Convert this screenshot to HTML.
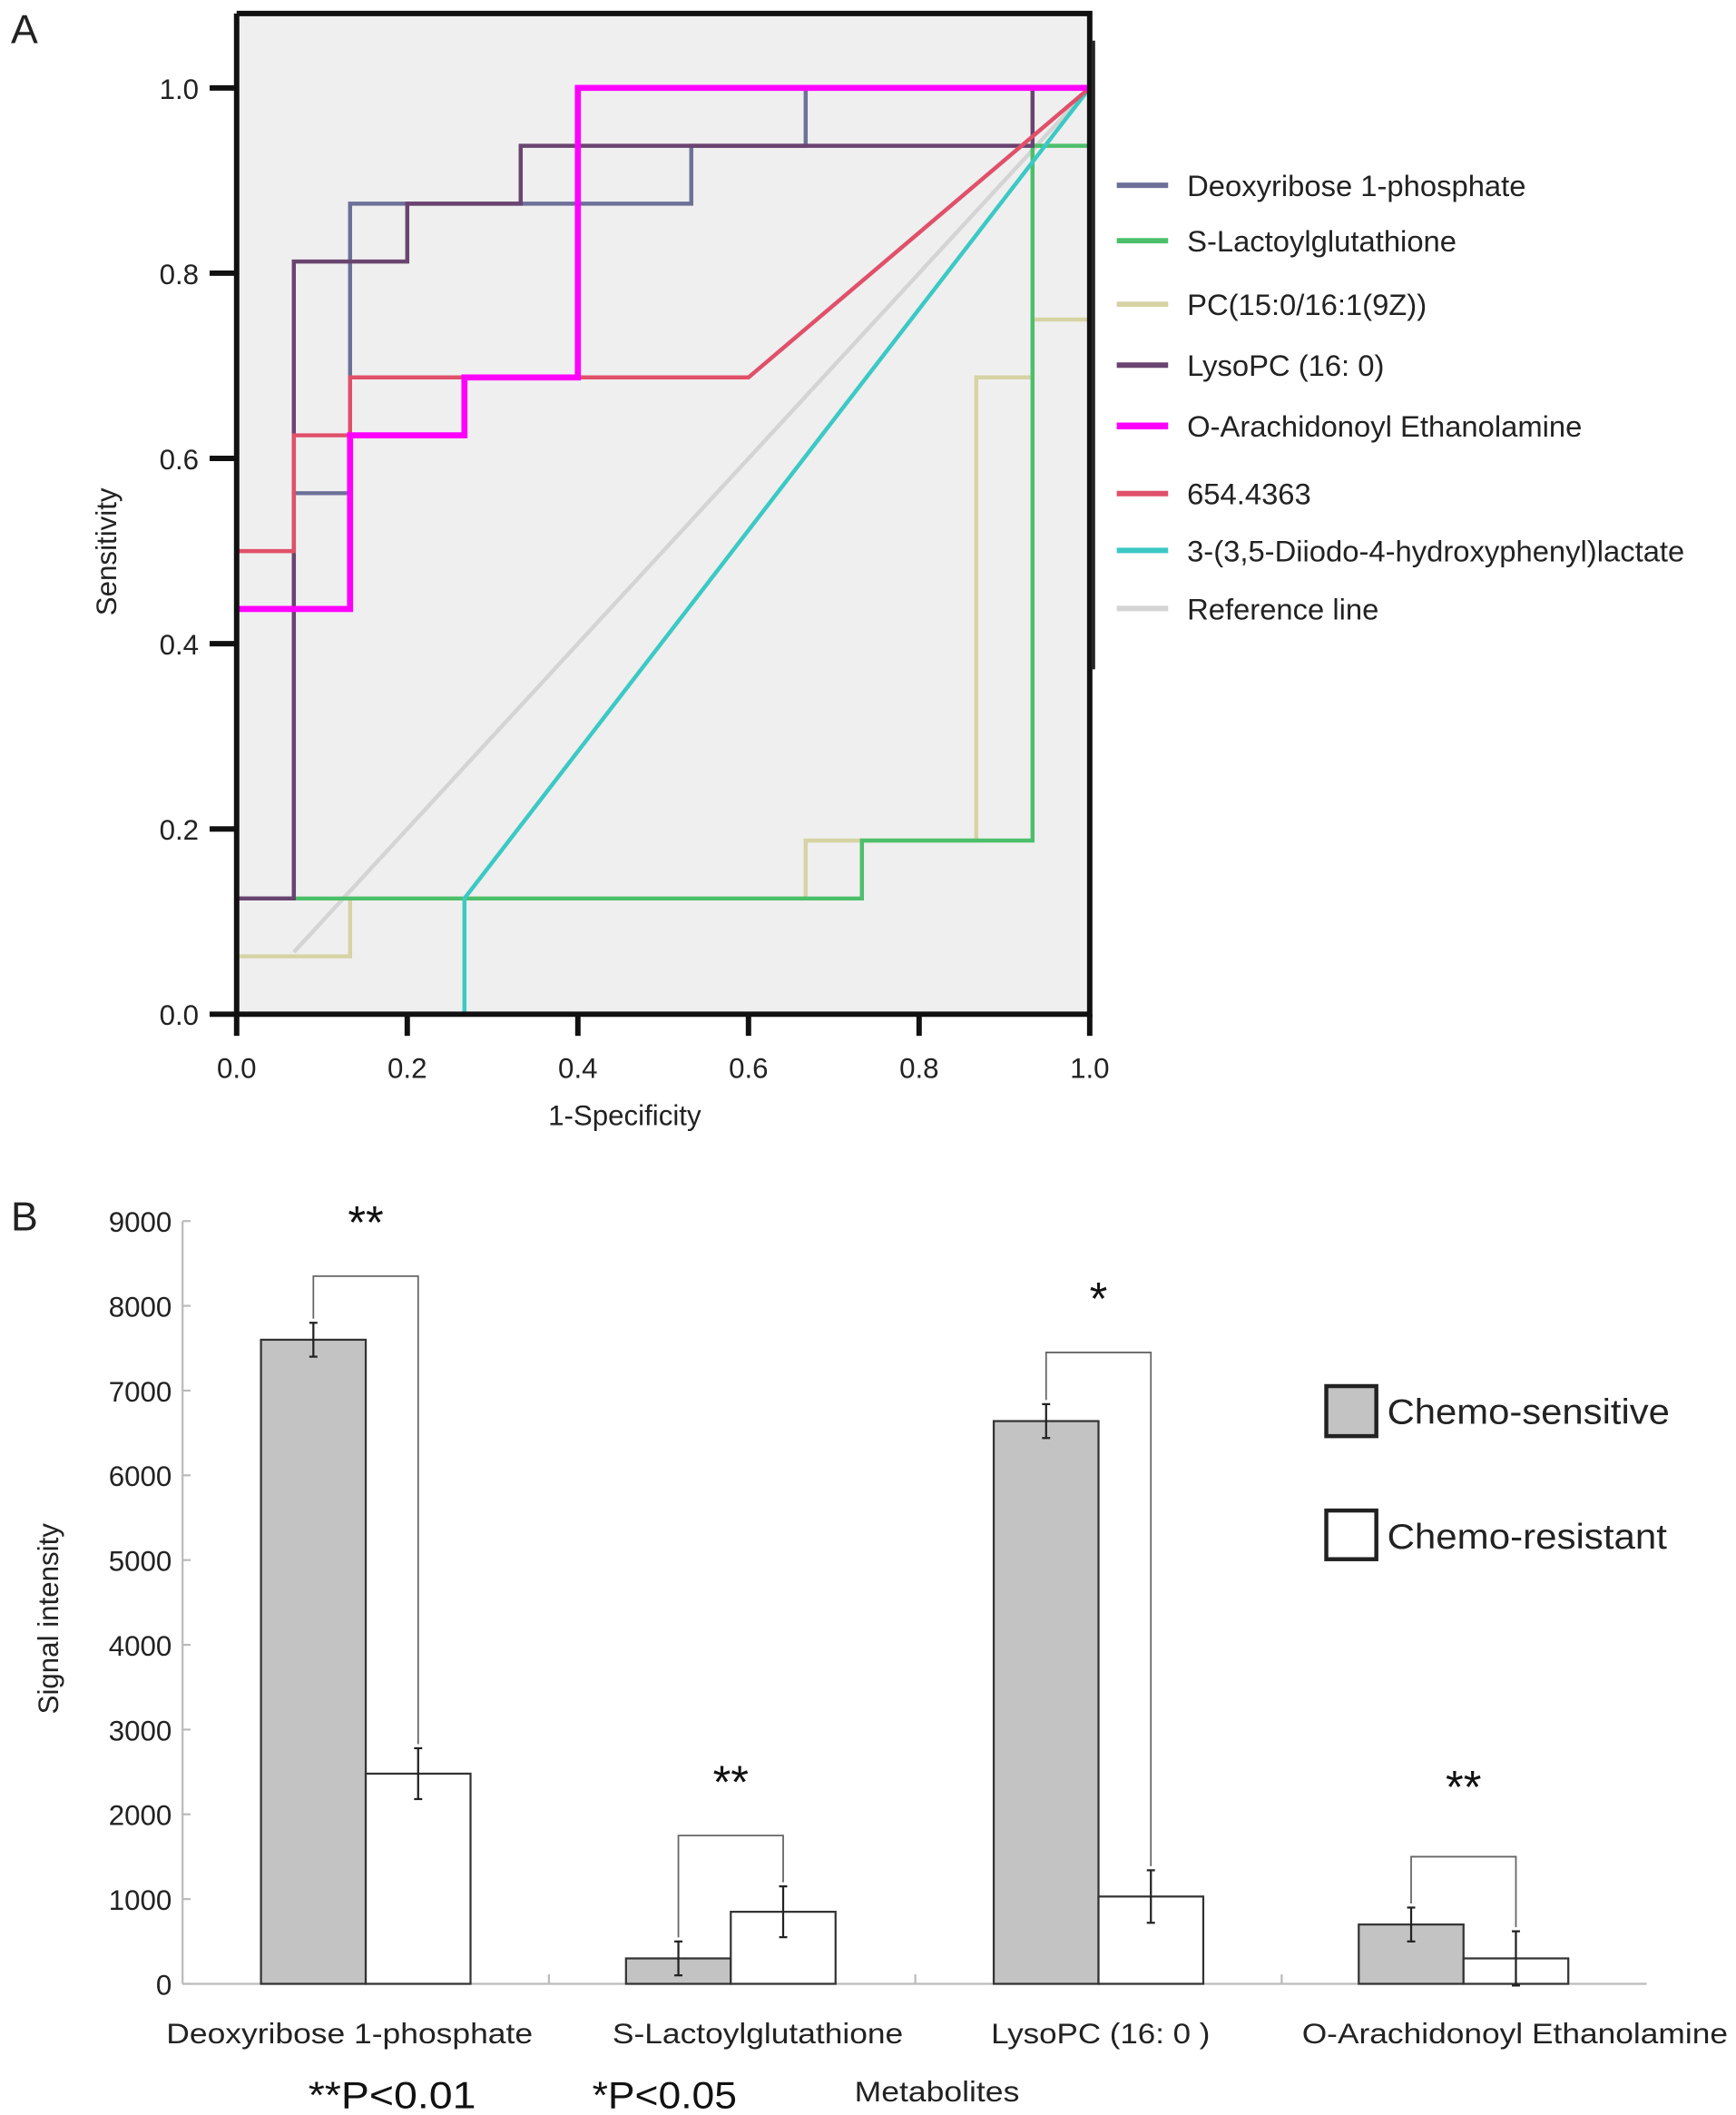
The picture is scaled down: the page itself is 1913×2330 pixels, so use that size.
<!DOCTYPE html>
<html><head><meta charset="utf-8"><style>
html,body{margin:0;padding:0;background:#fff;}
svg{display:block;font-family:"Liberation Sans",Arial,sans-serif;}
</style></head><body>
<svg id="fig" width="1913" height="2330" viewBox="0 0 1284 1564" xmlns="http://www.w3.org/2000/svg">
<g id="pa"></g>
<g id="pb"></g>
</svg>
<script>
// ---- Panel A data ----
const rocNames = ["Deoxyribose 1-phosphate","S-Lactoylglutathione","PC(15:0/16:1(9Z))","LysoPC (16: 0)","O-Arachidonoyl Ethanolamine","654.4363","3-(3,5-Diiodo-4-hydroxyphenyl)lactate","Reference line"];
const rocColors = ["#6d7199","#4cbf6a","#d6d3a4","#6a4470","#ff00ff","#e0506a","#3cc9c4","#d4d4d4"];
const rocWidths = [3,3,3,3,4.5,3,3,3];
const fprDeoxy = [0,0.067,0.067,0.133,0.133,0.533,0.533,0.667,0.667,1];
const tprDeoxy = [0.125,0.125,0.5625,0.5625,0.875,0.875,0.9375,0.9375,1,1];
const fprSLact = [0,0.733,0.733,0.933,0.933,1,1];
const tprSLact = [0.125,0.125,0.1875,0.1875,0.9375,0.9375,0.9375];
const fprPC = [0,0.133,0.133,0.667,0.667,0.867,0.867,0.933,0.933,1];
const tprPC = [0.0625,0.0625,0.125,0.125,0.1875,0.1875,0.6875,0.6875,0.75,0.75];
const fprLyso = [0,0.067,0.067,0.2,0.2,0.333,0.333,0.933,0.933,1];
const tprLyso = [0.125,0.125,0.8125,0.8125,0.875,0.875,0.9375,0.9375,1,1];
const fprOA = [0,0.133,0.133,0.267,0.267,0.4,0.4,1];
const tprOA = [0.4375,0.4375,0.625,0.625,0.6875,0.6875,1,1];
const fpr654 = [0,0.067,0.067,0.133,0.133,0.6,1];
const tpr654 = [0.5,0.5,0.625,0.625,0.6875,0.6875,1];
const fprDiiodo = [0.267,0.267,1];
const tprDiiodo = [0,0.125,1];
const fprRef = [0.067,1];
const tprRef = [0.067,1];
const rocTicks = [0,0.2,0.4,0.6,0.8,1.0];
const rocTickLabels = ["0.0","0.2","0.4","0.6","0.8","1.0"];

// ---- Panel B data ----
const metabolites = ["Deoxyribose 1-phosphate","S-Lactoylglutathione","LysoPC (16: 0 )","O-Arachidonoyl Ethanolamine"];
const sensValues = [7600,300,6640,700];
const sensErr = [200,200,200,200];
const resValues = [2480,850,1030,300];
const resErr = [300,300,310,320];
const bracketTop = [8350,1750,7450,1500];
const sigLabels = ["**","**","*","**"];
const barTicks = [0,1000,2000,3000,4000,5000,6000,7000,8000,9000];

const NS="http://www.w3.org/2000/svg";
function mk(parent,tag,attrs,text){const e=document.createElementNS(NS,tag);for(const k in attrs)e.setAttribute(k,attrs[k]);if(text!==undefined)e.textContent=text;parent.appendChild(e);return e;}

// ---- Panel A ----
const pa=document.getElementById('pa');
const ax=v=>175+v*631, ay=v=>750-v*685;
let el;
el=mk(pa,'rect',{x:175,y:11,width:631,height:739,fill:'#efefef'});


const seriesF=[fprDeoxy,fprSLact,fprPC,fprLyso,fprOA,fpr654,fprDiiodo,fprRef];
const seriesT=[tprDeoxy,tprSLact,tprPC,tprLyso,tprOA,tpr654,tprDiiodo,tprRef];
const order=[7,2,1,6,0,3,5,4];
order.forEach(i=>{
  const pts=seriesF[i].map((f,j)=>ax(f).toFixed(1)+','+ay(seriesT[i][j]).toFixed(1)).join(' ');
  const p=mk(pa,'polyline',{points:pts,fill:'none',stroke:rocColors[i],'stroke-width':rocWidths[i]});
  
  
});
el=mk(pa,'path',{d:'M175,10 V750 H806 V10 H175',fill:'none',stroke:'#111','stroke-width':4});


mk(pa,'line',{x1:809,y1:30,x2:809,y2:495,stroke:'#222','stroke-width':2});
rocTicks.forEach((t,i)=>{
  mk(pa,'line',{x1:155,y1:ay(t),x2:175,y2:ay(t),stroke:'#111','stroke-width':4});
  el=mk(pa,'text',{x:147,y:ay(t)+8,'text-anchor':'end','font-size':21,fill:'#222'},rocTickLabels[i]);
  
  
  mk(pa,'line',{x1:ax(t),y1:750,x2:ax(t),y2:766,stroke:'#111','stroke-width':4});
  el=mk(pa,'text',{x:ax(t),y:797,'text-anchor':'middle','font-size':21,fill:'#222'},rocTickLabels[i]);
  
  
});
el=mk(pa,'text',{x:0,y:0,transform:'translate(86,408) rotate(-90)','text-anchor':'middle','font-size':21,fill:'#222'},'Sensitivity');


el=mk(pa,'text',{x:462,y:832,'text-anchor':'middle','font-size':21,fill:'#222'},'1-Specificity');


el=mk(pa,'text',{x:8,y:32,'font-size':30,fill:'#222'},'A');


const legY=[137,178,225,270,315,365,407,450];
rocNames.forEach((n,i)=>{
  mk(pa,'line',{x1:826,y1:legY[i],x2:864,y2:legY[i],stroke:rocColors[i],'stroke-width':i==4?5:4});
  el=mk(pa,'text',{x:878,y:legY[i]+8,'font-size':22,fill:'#222'},n);
  
  
});

// ---- Panel B ----
const pb=document.getElementById('pb');
const by=v=>1467-v*0.06267;
const gx=[193,463,735,1005], bw=77.5;
const labelLeft=[123,453,733,963], labelLen=[271,215,162,315];
mk(pb,'line',{x1:135,y1:903,x2:135,y2:1467,stroke:'#bbb','stroke-width':1.5});
mk(pb,'line',{x1:135,y1:1467,x2:1218,y2:1467,stroke:'#bbb','stroke-width':1.5});
[406,677,948].forEach(x=>mk(pb,'line',{x1:x,y1:1460,x2:x,y2:1467,stroke:'#bbb','stroke-width':1.5}));
barTicks.forEach(t=>{
  mk(pb,'line',{x1:135,y1:by(t),x2:141,y2:by(t),stroke:'#bbb','stroke-width':1.5});
  el=mk(pb,'text',{x:127,y:by(t)+8,'text-anchor':'end','font-size':21,fill:'#222'},String(t));
  
  
});
function errbar(x,v,e){
  mk(pb,'line',{x1:x,y1:by(v+e),x2:x,y2:by(v-e),stroke:'#222','stroke-width':1.5});
  mk(pb,'line',{x1:x-3,y1:by(v+e),x2:x+3,y2:by(v+e),stroke:'#222','stroke-width':1.5});
  mk(pb,'line',{x1:x-3,y1:by(v-e),x2:x+3,y2:by(v-e),stroke:'#222','stroke-width':1.5});
}
metabolites.forEach((m,i)=>{
  const x0=gx[i];
  el=mk(pb,'rect',{x:x0,y:by(sensValues[i]),width:bw,height:sensValues[i]*0.06267,fill:'#c3c3c3',stroke:'#333','stroke-width':1.5});
  
  
  el=mk(pb,'rect',{x:x0+bw,y:by(resValues[i]),width:bw,height:resValues[i]*0.06267,fill:'#fff',stroke:'#333','stroke-width':1.5});
  
  
  const cs=x0+bw/2, cr=x0+bw*1.5;
  errbar(cs,sensValues[i],sensErr[i]);
  errbar(cr,resValues[i],resErr[i]);
  const bt=by(bracketTop[i]);
  mk(pb,'path',{d:`M${cs},${by(sensValues[i]+sensErr[i])-3} V${bt} H${cr} V${by(resValues[i]+resErr[i])-3}`,fill:'none',stroke:'#666','stroke-width':1.2});
  el=mk(pb,'text',{x:(cs+cr)/2,y:bt-(i==3?40:28),'text-anchor':'middle','font-size':34,fill:'#111'},sigLabels[i]);
  
  
  el=mk(pb,'text',{x:labelLeft[i],y:1511,'font-size':21,fill:'#222',textLength:labelLen[i],lengthAdjust:'spacingAndGlyphs'},m);
  
  
});
el=mk(pb,'text',{x:0,y:0,transform:'translate(43,1197) rotate(-90)','text-anchor':'middle','font-size':21,fill:'#222'},'Signal intensity');


el=mk(pb,'text',{x:8,y:910,'font-size':30,fill:'#222'},'B');


el=mk(pb,'rect',{x:981,y:1025,width:37,height:37,fill:'#c3c3c3',stroke:'#222','stroke-width':3});


el=mk(pb,'text',{x:1026,y:1053,'font-size':26,fill:'#222',textLength:209,lengthAdjust:'spacingAndGlyphs'},'Chemo-sensitive');


el=mk(pb,'rect',{x:981,y:1117,width:37,height:36,fill:'#fff',stroke:'#222','stroke-width':3});


el=mk(pb,'text',{x:1026,y:1145,'font-size':26,fill:'#222',textLength:207,lengthAdjust:'spacingAndGlyphs'},'Chemo-resistant');


el=mk(pb,'text',{x:228,y:1559,'font-size':28,fill:'#111',textLength:124,lengthAdjust:'spacingAndGlyphs'},'**P<0.01');


el=mk(pb,'text',{x:438,y:1559,'font-size':28,fill:'#111',textLength:107,lengthAdjust:'spacingAndGlyphs'},'*P<0.05');


el=mk(pb,'text',{x:632,y:1554,'font-size':21,fill:'#222',textLength:122,lengthAdjust:'spacingAndGlyphs'},'Metabolites');


</script>
</body></html>
